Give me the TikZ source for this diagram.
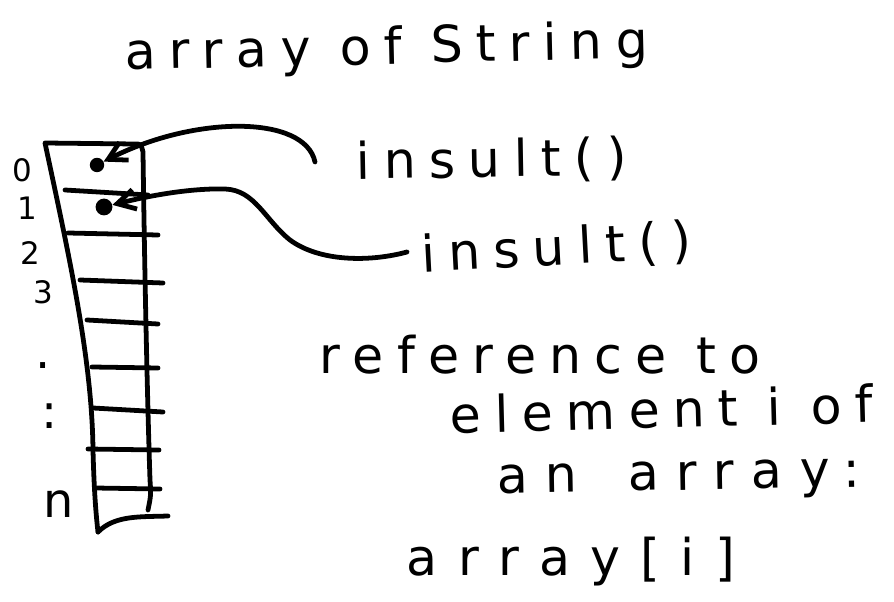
\documentclass[tikz,border=0pt]{standalone}
\usepackage{fontspec}
\setmainfont[LetterSpace=26]{DejaVu Sans}
\usetikzlibrary{arrows.meta}

\begin{document}
\begin{tikzpicture}[x=0.025cm, y=-0.025cm,
    pen/.style={line width=3.4pt, line cap=round, line join=round},
    scrawl/.style={font=\fontsize{36}{40}\selectfont, inner sep=0pt},
    idx/.style={font=\fontsize{22}{24}\selectfont, inner sep=0pt},
    slot/.style={circle, fill, minimum size=0.36cm, inner sep=0pt},
    ptr/.style={pen, -{Straight Barb[length=4.5mm, width=5mm]}}]

    \path[use as bounding box, fill=white] (0,0) rectangle (894,602);

    % Title
    \node[scrawl, anchor=base, rotate=1.3] (title) at (387,64) {array of String};

    % Draw the array column (left edge, top, right edge, bottom)
    \draw[pen] (98,532) .. controls (96,515) and (94,490) .. (93,450)
        .. controls (92,360) and (70,260) .. (45,143)
        -- (135,144) .. controls (141,144) .. (143,152)
        .. controls (145,300) and (148,420) .. (150,480)
        .. controls (151,495) .. (148,510);
    \draw[pen] (98,532) .. controls (115,515) and (140,517) .. (168,516);
    % Draw the lines between the cells
    \foreach \xa/\ya/\xb/\yb in {65/190/148/195, 68/233/158/235, 80/280/163/283,
        87/320/158/324, 92/367/158/368, 93/408/163/412, 88/449/159/450, 95/488/160/489}
        \draw[pen] (\xa,\ya) -- (\xb,\yb);

    % Index labels
    \node[idx] (i0) at (22,170) {0};
    \node[idx] (i1) at (27,208) {1};
    \node[idx] (i2) at (30,253) {2};
    \node[idx] (i3) at (43,292) {3};
    \node[idx, font=\fontsize{34}{36}\selectfont] (idot) at (43,366) {.};
    \node[idx, font=\fontsize{34}{36}\selectfont] (icolon) at (50,416) {:};
    \node[idx, font=\fontsize{34}{36}\selectfont, anchor=base] (in) at (59,517) {n};

    % References stored in cells 0 and 1
    \node[slot] (ref0) at (97,165) {};
    \node[slot, minimum size=0.42cm] (ref1) at (104,207) {};

    % The two String values
    \node[scrawl, anchor=base, rotate=1] (ins0) at (492,177) {insult()};
    \node[scrawl, anchor=base, rotate=3] (ins1) at (557,265) {insult()};
    \coordinate (tail0) at (315,162);
    \coordinate (tail1) at (407,252);

    % Arrows from the values back to the cells
    \draw[ptr] (tail0) .. controls (305,115) and (195,115) .. (ref0);
    \draw[ptr] (tail1) .. controls (370,262) and (320,262) .. (290,240)
        .. controls (265,220) and (255,190) .. (225,189)
        .. controls (185,188) and (140,198) .. (ref1);

    % Note on indexing
    \node[scrawl, anchor=base] (note1) at (540,374) {reference to};
    \node[scrawl, anchor=base, rotate=1.5] (note2) at (662,428) {element i of};
    \node[scrawl, font={\fontsize{36}{40}\selectfont\addfontfeature{LetterSpace=34}},
        anchor=base, rotate=1] (note3) at (679,490) {an\quad array:};
    \node[scrawl, font={\fontsize{36}{40}\selectfont\addfontfeature{LetterSpace=40}},
        anchor=base] (note4) at (571,575) {array[i]};

\end{tikzpicture}
\end{document}
